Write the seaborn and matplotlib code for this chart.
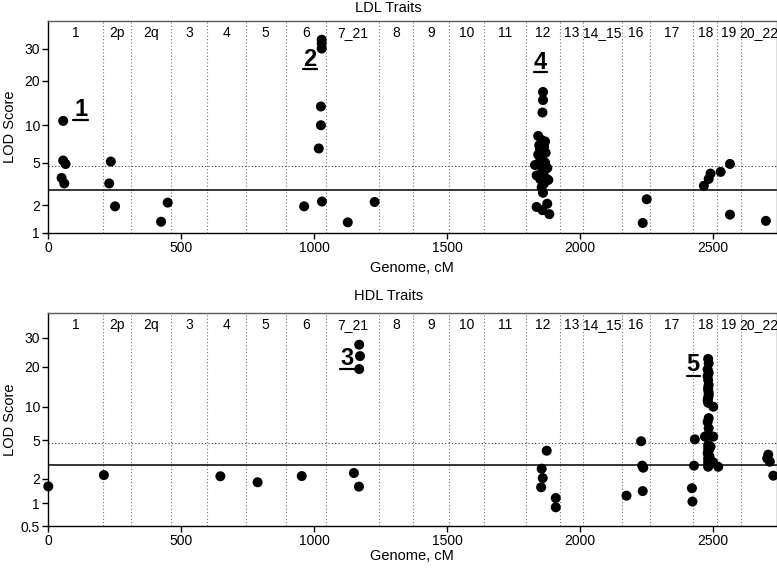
import numpy as np
import pandas as pd
import matplotlib
matplotlib.use("Agg")
import matplotlib.pyplot as plt
from matplotlib.ticker import NullLocator
import seaborn as sns

# ---------------- data ----------------
chrom_names = ["1", "2p", "2q", "3", "4", "5", "6", "7_21", "8", "9", "10", "11",
               "12", "13", "14_15", "16", "17", "18", "19", "20_22"]
chrom_bounds = [204.5, 310, 460, 598, 742, 892.5, 1045, 1244, 1372, 1507, 1638,
                1795, 1925, 2011, 2156, 2262, 2425, 2516, 2603]
genome_end = 2738

ldl_cm = [56, 56, 65, 50, 60,
          235, 229, 251,
          424, 449,
          962, 1017, 1025, 1025, 1028, 1028, 1028, 1029,
          1126, 1227,
          1860, 1860, 1858, 1842, 1855, 1860, 1864, 1849, 1842, 1853, 1860, 1830,
          1855, 1876, 1858, 1836, 1864, 1880, 1864, 1855, 1860, 1836, 1858, 1876,
          1884, 1868, 1846, 1870, 1850, 1868, 1872, 1850,
          2235, 2250,
          2465, 2483, 2490, 2528, 2563, 2563,
          2698]
ldl_lod = [10.7, 5.2, 4.85, 3.6, 3.2,
           5.1, 3.2, 1.95,
           1.32, 2.12,
           1.95, 6.5, 10.0, 13.4, 30.0, 32.0, 33.5, 2.17,
           1.30, 2.15,
           16.8, 14.8, 12.2, 8.2, 7.6, 7.1, 6.7, 6.4, 5.8, 5.5, 5.15, 4.75,
           4.6, 4.45, 4.15, 3.8, 3.75, 3.45, 3.2, 2.95, 2.62, 1.92, 1.77, 2.07,
           1.6, 7.4, 6.9, 6.0, 5.3, 5.0, 3.55, 3.5,
           1.28, 2.28,
           3.04, 3.52, 3.95, 4.1, 4.86, 1.58,
           1.35]

hdl_cm = [0, 209, 647, 787, 953, 1149, 1168, 1169, 1172, 1169,
          1874, 1855, 1859, 1853, 1908, 1908,
          2174, 2229, 2233, 2237, 2235,
          2431, 2428, 2420, 2422,
          2481, 2483, 2479, 2481, 2483, 2481, 2483, 2479, 2481, 2500, 2483, 2479,
          2483, 2481, 2469, 2500, 2481, 2490, 2481, 2483, 2479, 2486, 2481, 2490,
          2481, 2500, 2481, 2481, 2519, 2483, 2479, 2481, 2483, 2481,
          2707, 2703, 2713, 2726]
hdl_lod = [1.61, 2.18, 2.12, 1.81, 2.13, 2.29, 1.6, 27.2, 23.2, 19.2,
           3.9, 2.54, 2.03, 1.57, 1.16, 0.885,
           1.24, 4.89, 2.73, 2.6, 1.41,
           5.1, 2.73, 1.53, 1.05,
           22.3, 21.0, 19.1, 15.9, 14.6, 13.4, 12.2, 11.2, 10.7, 10.0, 7.9, 7.3,
           6.4, 5.6, 5.4, 5.4, 4.47, 4.3, 4.13, 3.9, 3.67, 3.4, 3.25, 3.1,
           3.0, 2.95, 2.77, 2.66, 2.66, 18.0, 17.0, 13.9, 12.8, 11.7,
           3.55, 3.25, 3.0, 2.15]

sig_threshold = 2.75
sugg_threshold = 4.7

# peak labels: (text, x cM, baseline LOD, underline LOD, underline x0, underline x1)
ldl_peaks = [("1", 122, 11.5, 10.8, 93, 150),
             ("2", 983, 24.0, 23.2, 957, 1009),
             ("4", 1850, 23.2, 22.3, 1826, 1875)]
hdl_peaks = [("3", 1124, 20.5, 19.1, 1097, 1150),
             ("5", 2423, 18.7, 17.0, 2400, 2450)]

# --------------- y scale (stretched LOD axis) ---------------
knot_v = np.log10([0.01, 0.5, 1, 2, 5, 10, 20, 30, 42.5, 1000])
knot_p = np.array([-150.8, -22.7, 0, 24.6, 63, 96.6, 136.6, 165.6, 190.6, 418.4])


def fwd(v):
    v = np.asarray(v, dtype=float)
    return np.interp(np.log10(np.clip(v, 1e-3, None)), knot_v, knot_p)


def inv(p):
    p = np.asarray(p, dtype=float)
    return 10 ** np.interp(p, knot_p, knot_v)


sns.set_style("white")
plt.rcParams["font.family"] = ["Liberation Sans", "DejaVu Sans"]
plt.rcParams.update({"text.color": "black", "axes.labelcolor": "black",
                     "xtick.color": "black", "ytick.color": "black"})

fig = plt.figure(figsize=(7.77, 5.68), dpi=100)
W, H = 777, 568


def make_ax(top_px, bot_px):
    left, right = 48.3, 776.5
    return fig.add_axes([left / W, 1 - bot_px / H, (right - left) / W, (bot_px - top_px) / H])


ax1 = make_ax(20.7, 232.7)
ax2 = make_ax(312.7, 526.0)

panels = [
    (ax1, ldl_cm, ldl_lod, 1.0, [1, 2, 5, 10, 20, 30], ldl_peaks, 268),
    (ax2, hdl_cm, hdl_lod, 0.5, [0.5, 1, 2, 5, 10, 20, 30], hdl_peaks, 556),
]

label_centers = []
edges = [0] + chrom_bounds + [genome_end]
for a, b in zip(edges[:-1], edges[1:]):
    label_centers.append((a + b) / 2)

for ax, xs, ys, ymin, yt, peaks, xlab_y in panels:
    ax.set_yscale("function", functions=(fwd, inv))
    df = pd.DataFrame({"cM": xs, "LOD": ys})
    for xb in chrom_bounds:
        ax.axvline(xb, color="0.45", lw=0.8, ls=(0, (1, 2)), zorder=1)
    ax.axhline(sugg_threshold, color="0.25", lw=0.8, ls=(0, (1, 2)), zorder=1)
    ax.axhline(sig_threshold, color="black", lw=1.1, zorder=1)
    sns.scatterplot(data=df, x="cM", y="LOD", ax=ax, color="black", s=52,
                    linewidth=0, edgecolor="none", zorder=3, clip_on=False)
    ax.set_xlim(0, genome_end)
    ax.set_ylim(ymin, 42.5)
    ax.set_yticks(yt, [("%g" % t) for t in yt])
    ax.yaxis.set_minor_locator(NullLocator())
    ax.set_xticks([0, 500, 1000, 1500, 2000, 2500])
    ax.tick_params(axis="both", direction="out", length=4, width=1,
                   left=True, bottom=True, labelsize=10, pad=2, colors="black")
    ax.set_xlabel("Genome, cM", fontsize=10.5, va="center", color="black")
    ax.set_ylabel("LOD Score", fontsize=10.5, va="center", color="black")
    ax.xaxis.set_label_coords(0.5, 0, transform=matplotlib.transforms.blended_transform_factory(
        ax.transAxes, fig.transFigure))
    ax.xaxis.label.set_position((0.5, 1 - xlab_y / H))
    ax.yaxis.set_label_coords(10, 0.5, transform=matplotlib.transforms.blended_transform_factory(
        matplotlib.transforms.IdentityTransform(), ax.transAxes))
    for sp in ax.spines.values():
        sp.set_color("black")
        sp.set_linewidth(1.0)
    for sp in ["top", "right"]:
        ax.spines[sp].set_color("0.35")
    for name, xc in zip(chrom_names, label_centers):
        ax.text(xc, 0.943, name, transform=ax.get_xaxis_transform(),
                ha="center", va="center", fontsize=10, color="black")
    for txt, xp, yb, yu, u0, u1 in peaks:
        ax.text(xp, yb, txt, ha="center", va="baseline", fontsize=17,
                fontweight="bold", zorder=4, color="black")
        ax.plot([u0, u1], [yu, yu], color="black", lw=1.6, zorder=4)

fig.text(0.5, 1 - 8 / H, "LDL Traits", ha="center", va="center", fontsize=10.5, color="black")
fig.text(0.5, 1 - 296 / H, "HDL Traits", ha="center", va="center", fontsize=10.5, color="black")

fig.savefig("out.png", dpi=100)
